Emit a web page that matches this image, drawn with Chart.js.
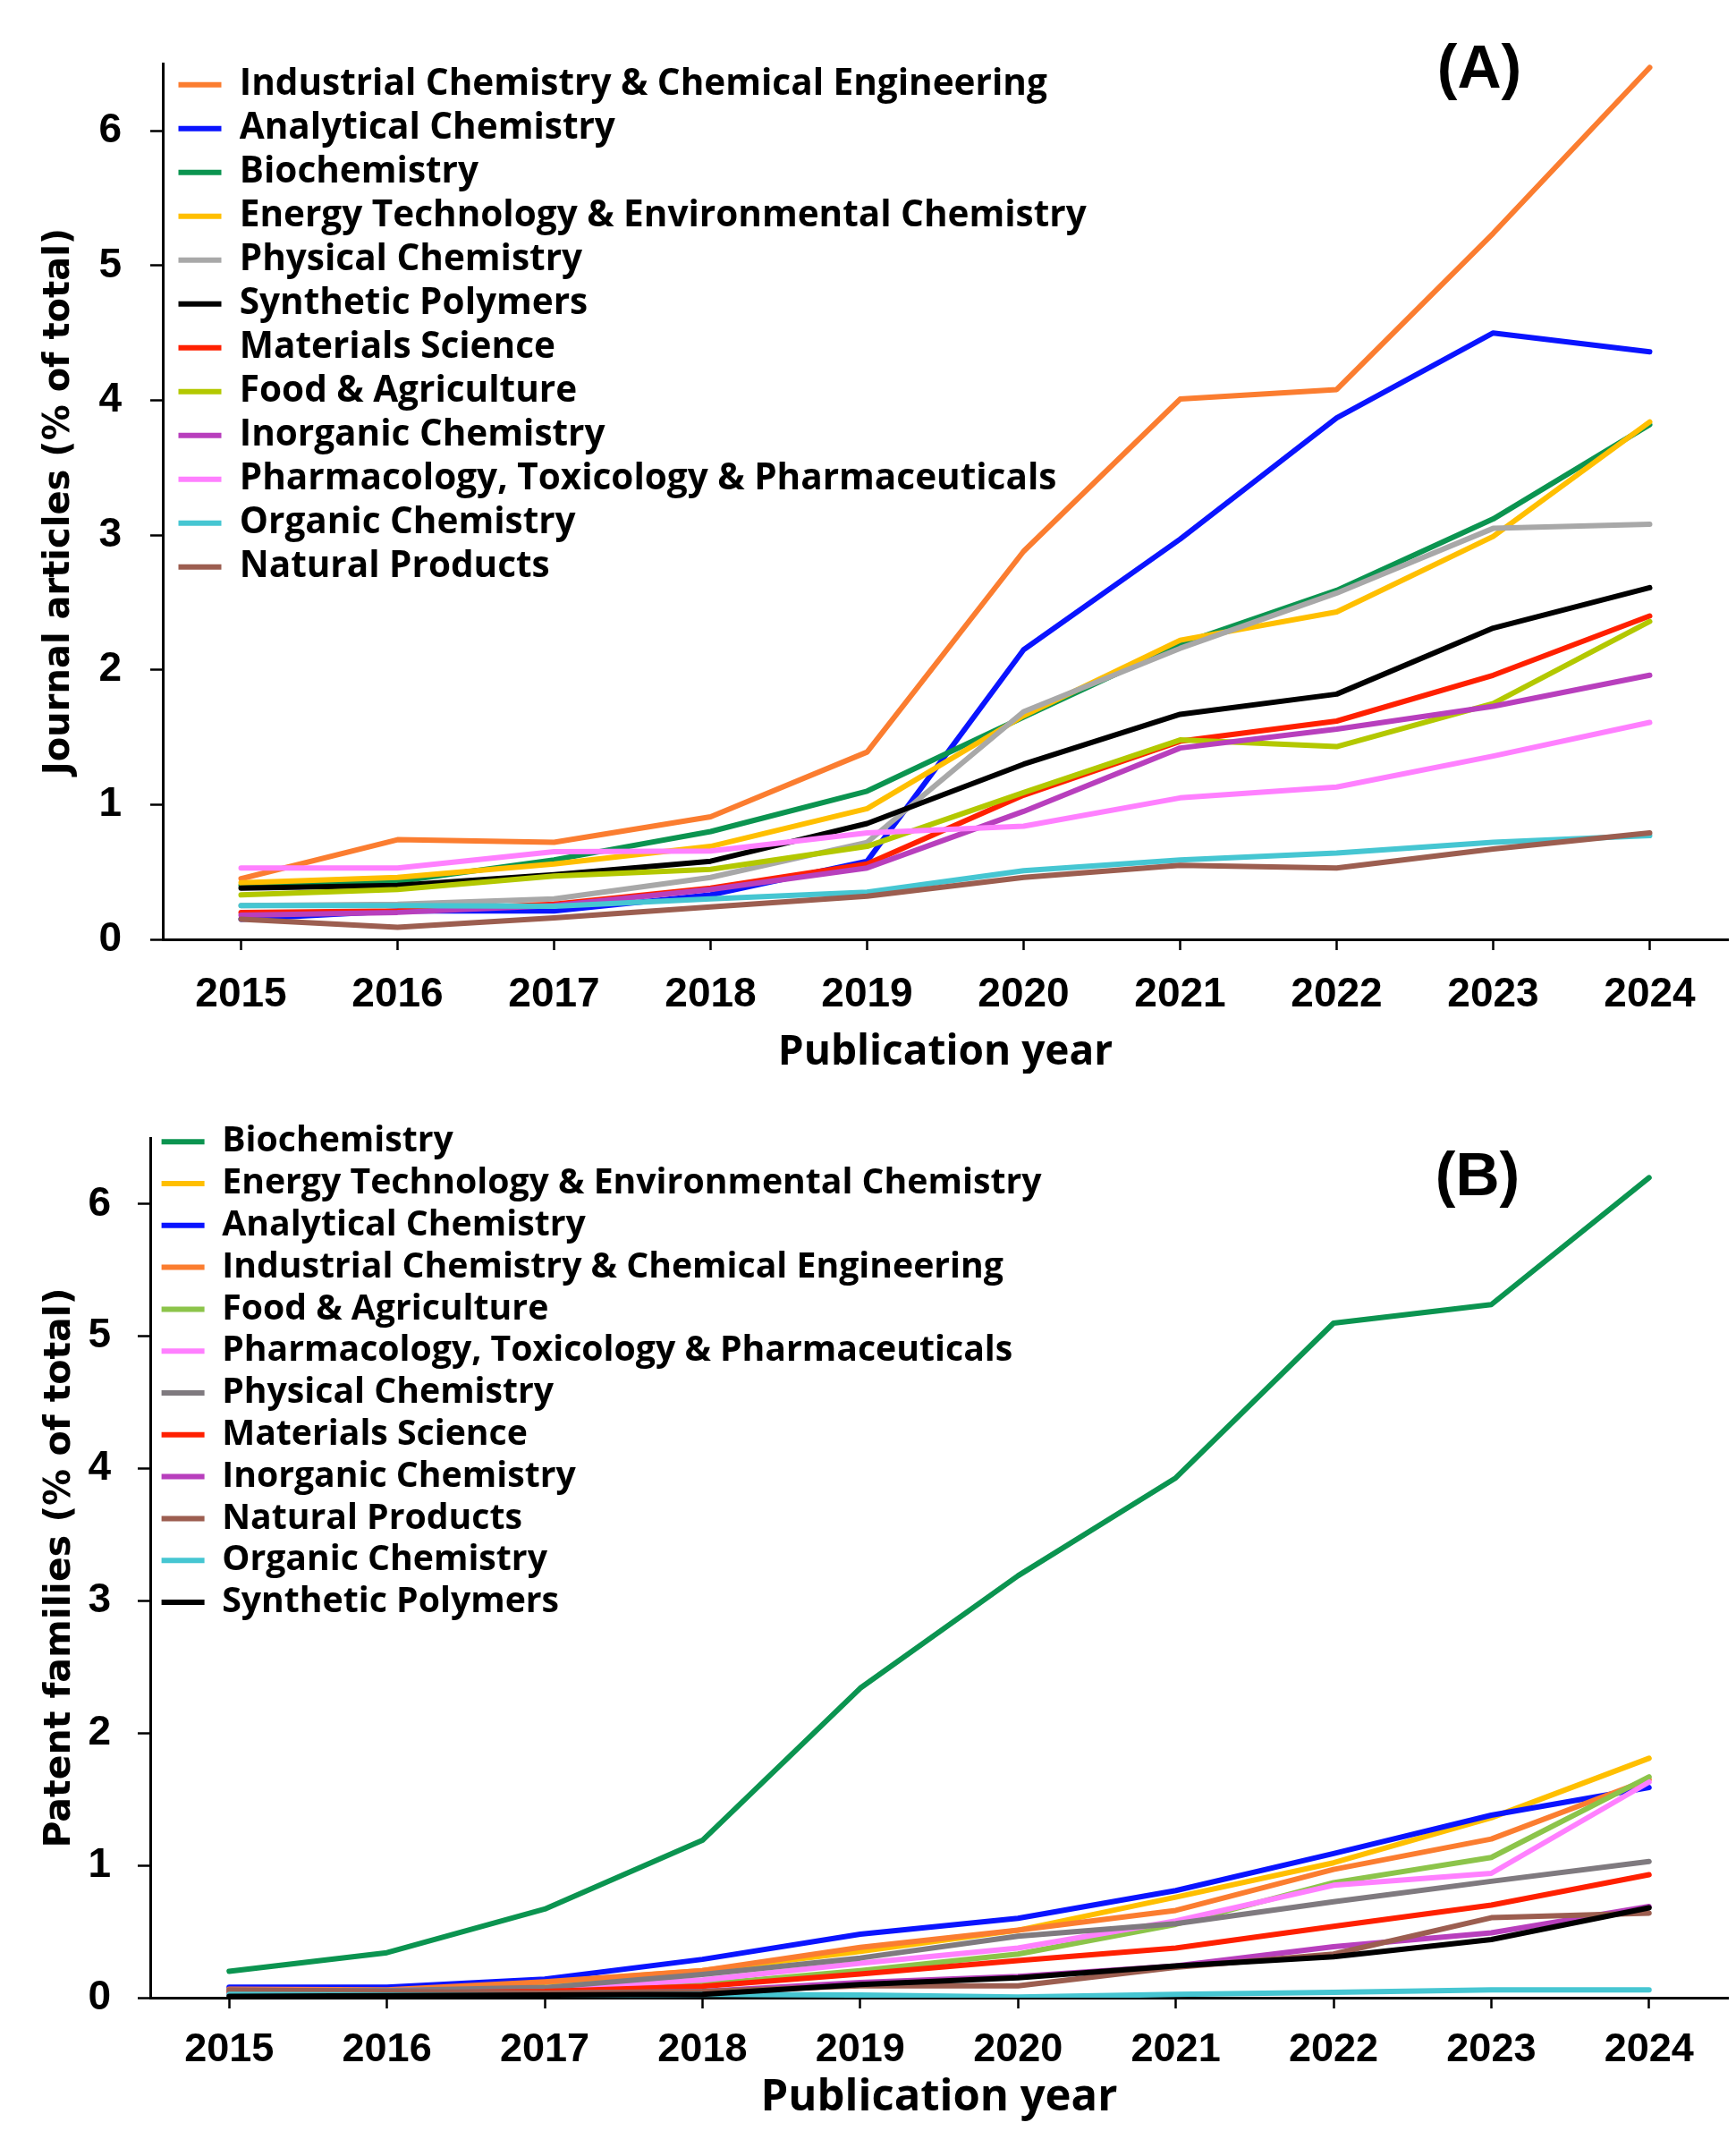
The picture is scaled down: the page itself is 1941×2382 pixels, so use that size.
<!DOCTYPE html>
<html lang="es">
<head>
<meta charset="utf-8">
<title>Artículos y familias de patentes por área (2015-2024)</title>
<script src="https://cdn.jsdelivr.net/npm/chart.js@4.4.1/dist/chart.umd.min.js"></script>
<style>
  html, body { margin: 0; padding: 0; background: #fff; }
  #contenedor { position: relative; width: 1941px; height: 2382px; }
  canvas { position: absolute; left: 0; }
  #graficoArticulos { top: 0; }
  #graficoPatentes { top: 1200px; }
</style>
</head>
<body>
<div id="contenedor">
  <canvas id="graficoArticulos" width="1941" height="1200"></canvas>
  <canvas id="graficoPatentes" width="1941" height="1182"></canvas>
</div>

<script>
/*
  Dos gráficos de líneas:
    (A) artículos de revista (% del total) por año de publicación
    (B) familias de patentes (% del total) por año de publicación
  Valores leídos a ojo de la figura original.
*/

// Categorías y marcas del eje Y
const anios = ["2015", "2016", "2017", "2018", "2019", "2020", "2021", "2022", "2023", "2024"];
const ticksEjeY = [0, 1, 2, 3, 4, 5, 6];

// ===== (A) Artículos de revista =====
const artIndustrial = [0.45, 0.74, 0.72, 0.91, 1.39, 2.88, 4.01, 4.08, 5.24, 6.47];
const artAnalitica  = [0.15, 0.21, 0.21, 0.33, 0.58, 2.15, 2.97, 3.87, 4.50, 4.36];
const artBioquimica = [0.40, 0.43, 0.59, 0.80, 1.10, 1.65, 2.19, 2.59, 3.12, 3.82];
const artEnergia    = [0.42, 0.46, 0.56, 0.69, 0.97, 1.66, 2.22, 2.43, 2.99, 3.84];
const artFisica     = [0.25, 0.26, 0.30, 0.46, 0.72, 1.69, 2.16, 2.57, 3.05, 3.08];
const artPolimeros  = [0.38, 0.40, 0.48, 0.58, 0.86, 1.30, 1.67, 1.82, 2.31, 2.61];
const artMateriales = [0.20, 0.21, 0.26, 0.38, 0.56, 1.07, 1.47, 1.62, 1.96, 2.40];
const artAlimentos  = [0.33, 0.37, 0.47, 0.52, 0.69, 1.09, 1.48, 1.43, 1.75, 2.36];
const artInorganica = [0.18, 0.20, 0.25, 0.37, 0.53, 0.95, 1.42, 1.56, 1.73, 1.96];
const artFarmacia   = [0.53, 0.53, 0.65, 0.655, 0.79, 0.84, 1.05, 1.13, 1.36, 1.61];
const artOrganica   = [0.25, 0.25, 0.245, 0.30, 0.35, 0.51, 0.59, 0.64, 0.72, 0.77];
const artNaturales  = [0.15, 0.09, 0.16, 0.24, 0.32, 0.46, 0.55, 0.53, 0.67, 0.79];

// ===== (B) Familias de patentes =====
const patBioquimica = [0.20, 0.34, 0.67, 1.19, 2.34, 3.19, 3.93, 5.10, 5.24, 6.20];
const patEnergia    = [0.065, 0.06, 0.115, 0.205, 0.35, 0.51, 0.76, 1.02, 1.36, 1.81];
const patAnalitica  = [0.08, 0.08, 0.14, 0.29, 0.48, 0.60, 0.81, 1.09, 1.38, 1.59];
const patIndustrial = [0.065, 0.06, 0.12, 0.205, 0.38, 0.51, 0.66, 0.97, 1.20, 1.65];
const patAlimentos  = [0.05, 0.05, 0.06, 0.10, 0.205, 0.33, 0.555, 0.87, 1.06, 1.67];
const patFarmacia   = [0.055, 0.054, 0.07, 0.133, 0.26, 0.375, 0.58, 0.85, 0.94, 1.63];
const patFisica     = [0.054, 0.054, 0.077, 0.176, 0.30, 0.465, 0.56, 0.725, 0.88, 1.03];
const patMateriales = [0.036, 0.036, 0.047, 0.086, 0.18, 0.28, 0.375, 0.54, 0.70, 0.93];
const patInorganica = [0.025, 0.025, 0.03, 0.047, 0.115, 0.16, 0.24, 0.386, 0.49, 0.69];
const patNaturales  = [0.06, 0.047, 0.036, 0.047, 0.09, 0.09, 0.23, 0.33, 0.605, 0.64];
const patOrganica   = [0.025, 0.02, 0.015, 0.025, 0.02, 0.005, 0.025, 0.04, 0.06, 0.06];
const patPolimeros  = [0.01, 0.015, 0.02, 0.025, 0.10, 0.15, 0.24, 0.31, 0.44, 0.68];

// Colores por área
const colores = {
    industrial: "#fb7d30",
    analitica:  "#0a14ff",
    bioquimica: "#0b9450",
    energia:    "#ffbf00",
    fisicaA:    "#a8a8a8",
    fisicaB:    "#7f7a7f",
    polimeros:  "#000000",
    materiales: "#ff2000",
    alimentosA: "#b3c800",
    alimentosB: "#8cc44a",
    inorganica: "#b83fbd",
    farmacia:   "#ff80ff",
    organica:   "#46c6d2",
    naturales:  "#9c5e50"
};

// Fuentes
const fuenteNumeros = '"Liberation Sans", Arial, sans-serif';
const fuenteTextos  = '"Open Sans", "Noto Sans", sans-serif';
const fuenteEjeY    = '"DejaVu Sans", Verdana, sans-serif';

// ===== FUNCION: series =====
// Convierte [etiqueta, datos, color] en datasets; la última serie queda encima.
function series(lista) {
    return lista.map(([label, data, color], i) => ({
        label: label,
        data: data,
        borderColor: color,
        backgroundColor: color,
        borderWidth: 6,
        borderCapStyle: "round",
        borderJoinStyle: "round",
        pointRadius: 0,
        tension: 0,
        fill: false,
        order: lista.length - i
    }));
}

// Plugin: rótulo del panel y posición de la leyenda
const ajustes = {
    id: "ajustes",
    afterLayout(chart, args, opts) {
        const ley = chart.legend;
        if (!ley) return;
        // la leyenda "chartArea" queda con top = 0: se recoloca respecto al área
        const alto = ley.height;
        ley.left += opts.dx; ley.right += opts.dx;
        ley.top = chart.chartArea.top + opts.dy;
        ley.bottom = ley.top + alto;
    },
    afterDraw(chart, args, opts) {
        const { ctx, chartArea } = chart;
        ctx.save();
        ctx.font = "bold 68px " + fuenteNumeros;
        ctx.fillStyle = "#000";
        ctx.textAlign = "center";
        ctx.textBaseline = "middle";
        ctx.fillText(opts.panel, chartArea.right - opts.derecha, chartArea.top + opts.arriba);
        ctx.restore();
    }
};

// ===== FUNCION: opciones =====
// Opciones comunes; cfg trae tamaños y rellenos propios de cada panel.
function opciones(cfg) {
    const negro = "#000";
    return {
        responsive: false,
        animation: false,
        events: [],
        layout: { padding: { left: 20, right: 9, top: cfg.arriba, bottom: 0 } },
        plugins: {
            tooltip: { enabled: false },
            legend: {
                position: "chartArea",
                align: "start",
                labels: {
                    usePointStyle: true,
                    pointStyle: "line",
                    pointStyleWidth: 48,
                    padding: cfg.padLeyenda,
                    color: negro,
                    font: { family: fuenteTextos, weight: "bold", size: cfg.tamLeyenda },
                    sort: (a, b) => a.datasetIndex - b.datasetIndex
                }
            },
            ajustes: { panel: cfg.panel, derecha: cfg.panelDerecha, arriba: cfg.panelArriba, dx: cfg.dx, dy: cfg.dy }
        },
        scales: {
            x: {
                type: "category",
                offset: true,
                afterFit: s => { s.height = cfg.altoEjeX; },
                border: { display: true, color: negro, width: 3 },
                grid: { drawOnChartArea: false, drawTicks: true, offset: false, tickLength: 12, tickWidth: 2.5, tickColor: negro },
                ticks: {
                    color: negro, padding: cfg.padTicksX, maxRotation: 0, autoSkip: false,
                    font: { family: fuenteNumeros, weight: "bold", size: cfg.tamTicksX }
                },
                title: {
                    display: true, text: "Publication year", color: negro,
                    padding: { top: 0, bottom: cfg.padTituloX },
                    font: { family: fuenteTextos, weight: "bold", size: cfg.tamTituloX, lineHeight: 1 }
                }
            },
            y: {
                min: 0,
                max: 6.5,
                afterFit: s => { s.width = cfg.anchoEjeY; },
                afterBuildTicks: s => { s.ticks = ticksEjeY.map(v => ({ value: v })); },
                border: { display: true, color: negro, width: 3 },
                grid: { drawOnChartArea: false, drawTicks: true, tickLength: 14, tickWidth: 2.5, tickColor: negro },
                ticks: {
                    color: negro, padding: cfg.padTicksY,
                    font: { family: fuenteNumeros, weight: "bold", size: 46 }
                },
                title: {
                    display: true, text: cfg.tituloY, color: negro,
                    padding: { top: 23, bottom: 0 },
                    font: { family: fuenteEjeY, weight: "bold", size: cfg.tamTituloY }
                }
            }
        }
    };
}

// ===== GRAFICO A: artículos de revista =====
new Chart(document.getElementById("graficoArticulos"), {
    type: "line",
    data: {
        labels: anios,
        datasets: series([
            ["Industrial Chemistry & Chemical Engineering", artIndustrial, colores.industrial],
            ["Analytical Chemistry", artAnalitica, colores.analitica],
            ["Biochemistry", artBioquimica, colores.bioquimica],
            ["Energy Technology & Environmental Chemistry", artEnergia, colores.energia],
            ["Physical Chemistry", artFisica, colores.fisicaA],
            ["Synthetic Polymers", artPolimeros, colores.polimeros],
            ["Materials Science", artMateriales, colores.materiales],
            ["Food & Agriculture", artAlimentos, colores.alimentosA],
            ["Inorganic Chemistry", artInorganica, colores.inorganica],
            ["Pharmacology, Toxicology & Pharmaceuticals", artFarmacia, colores.farmacia],
            ["Organic Chemistry", artOrganica, colores.organica],
            ["Natural Products", artNaturales, colores.naturales]
        ])
    },
    options: opciones({
        arriba: 71, anchoEjeY: 162, altoEjeX: 150,
        padTicksX: 23, tamTicksX: 46, padTituloX: 0, tamTituloX: 46,
        padTicksY: 32, tituloY: "Journal articles (% of total)", tamTituloY: 40,
        tamLeyenda: 40.5, padLeyenda: 8.5, dx: 9, dy: -5,
        panel: "(A)", panelDerecha: 278, panelArriba: 8
    }),
    plugins: [ajustes]
});

// ===== GRAFICO B: familias de patentes =====
new Chart(document.getElementById("graficoPatentes"), {
    type: "line",
    data: {
        labels: anios,
        datasets: series([
            ["Biochemistry", patBioquimica, colores.bioquimica],
            ["Energy Technology & Environmental Chemistry", patEnergia, colores.energia],
            ["Analytical Chemistry", patAnalitica, colores.analitica],
            ["Industrial Chemistry & Chemical Engineering", patIndustrial, colores.industrial],
            ["Food & Agriculture", patAlimentos, colores.alimentosB],
            ["Pharmacology, Toxicology & Pharmaceuticals", patFarmacia, colores.farmacia],
            ["Physical Chemistry", patFisica, colores.fisicaB],
            ["Materials Science", patMateriales, colores.materiales],
            ["Inorganic Chemistry", patInorganica, colores.inorganica],
            ["Natural Products", patNaturales, colores.naturales],
            ["Organic Chemistry", patOrganica, colores.organica],
            ["Synthetic Polymers", patPolimeros, colores.polimeros]
        ])
    },
    options: opciones({
        arriba: 72, anchoEjeY: 148, altoEjeX: 149,
        padTicksX: 20, tamTicksX: 45, padTituloX: 12, tamTituloX: 49,
        padTicksY: 30, tituloY: "Patent families (% of total)", tamTituloY: 41,
        tamLeyenda: 39.2, padLeyenda: 7.6, dx: 5, dy: -23,
        panel: "(B)", panelDerecha: 280, panelArriba: 45
    }),
    plugins: [ajustes]
});
</script>
</body>
</html>
